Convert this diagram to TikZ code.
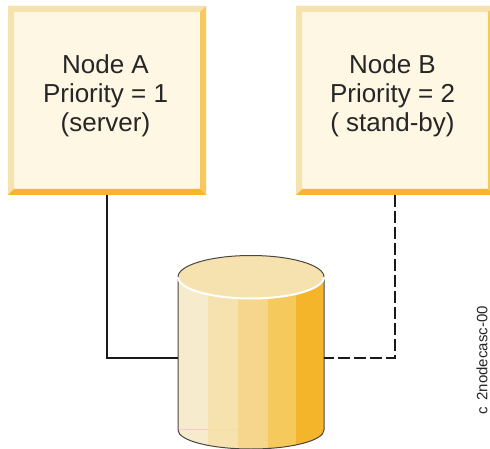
\documentclass[tikz,border=0pt]{standalone}
\usepackage{fontspec}
\setmainfont{Liberation Sans}
\definecolor{boxface}{HTML}{FDF7E4}
\definecolor{bevellight}{HTML}{F6E2AE}
\definecolor{bevelmid}{HTML}{F5C95C}
\definecolor{beveldark}{HTML}{F5B52E}
\definecolor{bandone}{HTML}{F6EBCD}
\definecolor{bandtwo}{HTML}{F6E2AE}
\definecolor{bandthree}{HTML}{F6D68C}
\definecolor{bandfour}{HTML}{F5C95C}
\definecolor{bandfive}{HTML}{F4B52B}
\definecolor{diskedge}{HTML}{4A4640}
\tikzset{
  nodebox/.style={minimum width=198pt,minimum height=189pt,inner sep=0pt,outer sep=0pt},
  boxtext/.style={align=center,inner sep=0pt,font=\fontsize{26}{29}\selectfont,text=black!85},
  diskbody/.style={minimum width=146pt,minimum height=162pt,inner sep=0pt,outer sep=0pt},
  link/.style={line width=2pt,black!90}
}
\begin{document}
\begin{tikzpicture}[x=1pt,y=-1pt]
        \useasboundingbox (0,0) rectangle (490,449);
        \clip (0,0) rectangle (490,449);
        % box A
        \fill[fill=boxface] (8,6) rectangle (206,195);
        \fill[fill=bevellight] (8,6)--(206,6)--(200,12)--(14,12)--(14,189)--(8,195)--cycle;
        \fill[fill=bevelmid] (206,6)--(206,195)--(200,189)--(200,12)--cycle;
        \fill[fill=beveldark] (8,195)--(206,195)--(200,189)--(14,189)--cycle;
        % box B
        \fill[fill=boxface] (296,6) rectangle (494,195);
        \fill[fill=bevellight] (296,6)--(494,6)--(488,12)--(302,12)--(302,189)--(296,195)--cycle;
        \fill[fill=bevelmid] (494,6)--(494,195)--(488,189)--(488,12)--cycle;
        \fill[fill=beveldark] (296,195)--(494,195)--(488,189)--(302,189)--cycle;
        \draw (107,100.5) node[nodebox] (nodeA) {};
        \draw (394.5,100.5) node[nodebox] (nodeB) {};
        \draw (105.5,96) node[boxtext] (textA) {Node A\\Priority = 1\\(server)};
        \draw (392.5,96) node[boxtext] (textB) {Node B\\Priority = 2\\( stand-by)};
        % disk
        \draw (251,358) node[diskbody] (disk) {};
        \begin{scope}
        \clip (178,277) -- (178,430) arc (180:0:73 and 19) -- (324,277) -- cycle;
        \fill[fill=bandone] (178,270) rectangle (208,449);
        \fill[fill=bandtwo] (208,270) rectangle (238,449);
        \fill[fill=bandthree] (238,270) rectangle (268,449);
        \fill[fill=bandfour] (268,270) rectangle (296,449);
        \fill[fill=bandfive] (296,270) rectangle (324,449);
        \draw[bandthree,line width=0.6pt] (178,429) -- (208,429);
        \draw[bandthree!50!bandtwo,line width=0.6pt] (208,429) -- (238,429);
        \end{scope}
        \draw[diskedge,line width=1pt] (178,277) -- (178,430) arc (180:0:73 and 19) -- (324,277);
        \fill[fill=bevellight] (251,277) ellipse (73 and 21.5);
        \draw[white,line width=2pt] (178,277) arc (180:0:73 and 21.5);
        \draw[diskedge,line width=1pt] (178,277) arc (180:360:73 and 21.5);
        % links
        \draw[link] (nodeA.south) |- (disk.west);
        \draw[link,dash pattern=on 12pt off 4pt] (nodeB.south) |- (disk.east);
        \draw (482,360.5) node[rotate=90,font=\fontsize{15}{17}\selectfont,text=black!85] (tag) {c\hspace{7pt}2nodecasc-00};
\end{tikzpicture}
\end{document}
